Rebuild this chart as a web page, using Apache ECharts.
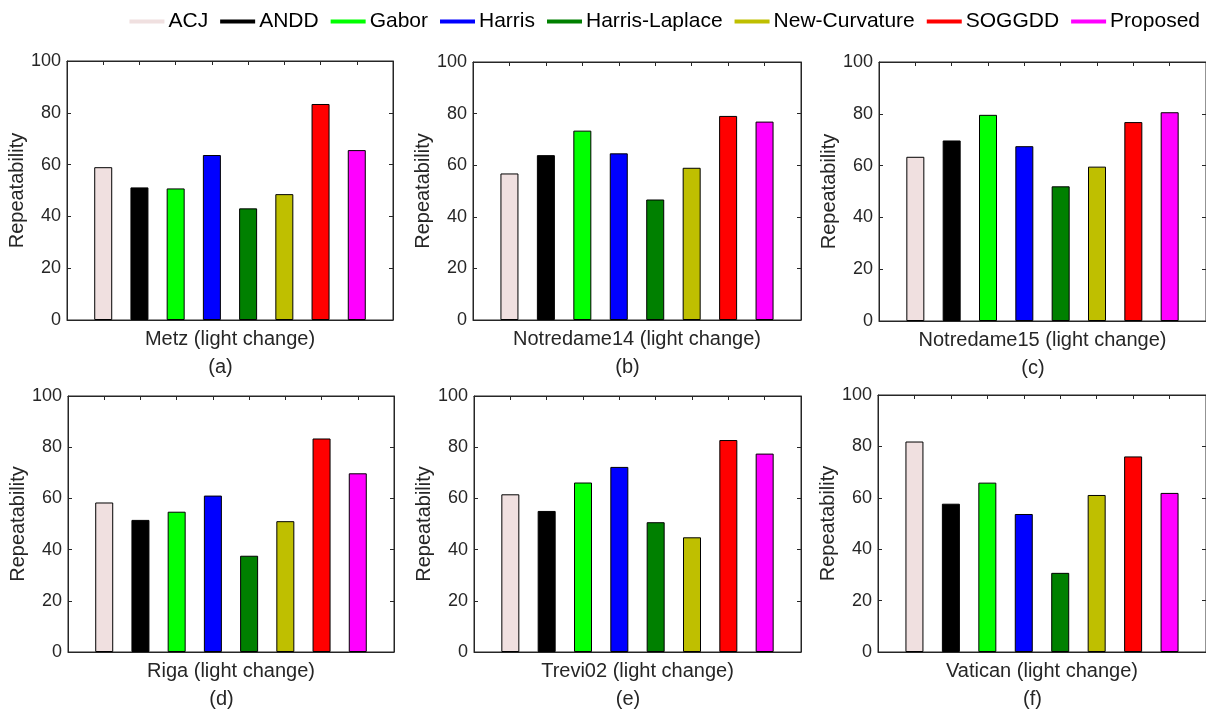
<!DOCTYPE html>
<html>
<head>
<meta charset="utf-8">
<script src="https://cdn.jsdelivr.net/npm/echarts@6/dist/echarts.min.js"></script>
<style>
html,body{margin:0;padding:0;background:#fff;}
#chart{width:1206px;height:714px;}
</style>
</head>
<body>
<div id="chart"></div>
<script>
// ---- data ----
const methods = ['ACJ', 'ANDD', 'Gabor', 'Harris', 'Harris-Laplace', 'New-Curvature', 'SOGGDD', 'Proposed'];
const datasetNames = ['Metz (light change)', 'Notredame14 (light change)', 'Notredame15 (light change)',
                      'Riga (light change)', 'Trevi02 (light change)', 'Vatican (light change)'];
const panelLabels = ['(a)', '(b)', '(c)', '(d)', '(e)', '(f)'];
const metz        = [59.0, 51.2, 50.8, 63.7, 43.1, 48.6, 83.4, 65.6];
const notredame14 = [56.8, 63.9, 73.4, 64.6, 46.7, 59.0, 79.1, 76.9];
const notredame15 = [63.4, 69.7, 79.6, 67.5, 52.0, 59.6, 76.8, 80.6];
const riga        = [58.4, 51.6, 54.8, 61.1, 37.6, 51.1, 83.4, 69.8];
const trevi02     = [61.6, 55.1, 66.2, 72.3, 50.7, 44.8, 82.8, 77.5];
const vatican     = [81.9, 57.7, 65.9, 53.7, 30.8, 61.1, 76.1, 61.9];
const yTicks = [0, 20, 40, 60, 80, 100];
const xPositions = [1, 2, 3, 4, 5, 6, 7, 8];

// ---- styles / layout ----
const panelValues = [metz, notredame14, notredame15, riga, trevi02, vatican];
const methodColors = ['#f0e0e0', '#000000', '#00ff00', '#0000ff', '#008000', '#bfbf00', '#ff0000', '#ff00ff'];
const gridBoxes = [
  {left: 67,  top: 61,  width: 326, height: 259},
  {left: 473, top: 62,  width: 328, height: 258},
  {left: 879, top: 62,  width: 329, height: 259},
  {left: 68,  top: 396, width: 326, height: 259},
  {left: 474, top: 396, width: 327, height: 259},
  {left: 878, top: 395, width: 330, height: 259}
];
const FONT = "'Liberation Sans', Arial, sans-serif";
const AX = '#262626';

const grids = [], xAxes = [], yAxes = [], series = [];
gridBoxes.forEach((g, k) => {
  grids.push(Object.assign({show: true, borderColor: AX, borderWidth: 1, backgroundColor: 'transparent', containLabel: false}, g));
  const baseX = {
    gridIndex: k, type: 'value', min: 0, max: 9, interval: 1,
    axisLabel: {show: false}, splitLine: {show: false},
    axisLine: {show: true, onZero: false, lineStyle: {color: AX, width: 1}},
    axisTick: {show: true, inside: true, length: 4, lineStyle: {color: AX}}
  };
  xAxes.push(Object.assign({}, baseX, {
    position: 'bottom',
    name: '{t|' + datasetNames[k] + '}\n{p|' + panelLabels[k] + '}',
    nameLocation: 'middle', nameGap: 5,
    nameTextStyle: {
      color: AX, fontFamily: FONT, fontSize: 20, lineHeight: 28,
      rich: {
        t: {color: AX, fontFamily: FONT, fontSize: 20, lineHeight: 28},
        p: {color: AX, fontFamily: FONT, fontSize: 20, lineHeight: 28, padding: [0, 19, 0, 0]}
      }
    }
  }));
  xAxes.push(Object.assign({}, baseX, {position: 'top'}));
  const baseY = {
    gridIndex: k, type: 'value', min: yTicks[0], max: yTicks[yTicks.length - 1], interval: yTicks[1] - yTicks[0],
    splitLine: {show: false},
    axisLine: {show: true, onZero: false, lineStyle: {color: AX, width: 1}},
    axisTick: {show: true, inside: true, length: 4, lineStyle: {color: AX}}
  };
  yAxes.push(Object.assign({}, baseY, {
    position: 'left',
    axisLabel: {show: true, color: AX, fontFamily: FONT, fontSize: 18, margin: 6},
    name: 'Repeatability', nameLocation: 'middle', nameGap: 40,
    nameTextStyle: {color: AX, fontFamily: FONT, fontSize: 20}
  }));
  yAxes.push(Object.assign({}, baseY, {position: 'right', axisLabel: {show: false}}));
  methods.forEach((m, j) => {
    series.push({
      type: 'bar', name: m,
      xAxisIndex: 2 * k, yAxisIndex: 2 * k,
      barWidth: 18, barGap: '-100%',
      itemStyle: {color: methodColors[j], borderColor: '#000', borderWidth: 1},
      emphasis: {disabled: true},
      data: [[xPositions[j], panelValues[k][j]]],
      animation: false
    });
  });
});

const chart = echarts.init(document.getElementById('chart'), null, {renderer: 'canvas'});
chart.setOption({
  backgroundColor: '#fff',
  animation: false,
  legend: {
    data: methods.map((m, j) => ({name: m, itemStyle: {color: methodColors[j], borderWidth: 0}})),
    top: 11, right: 6, padding: 0,
    icon: 'rect', itemWidth: 35, itemHeight: 4, itemGap: 12,
    textStyle: {color: '#000', fontFamily: FONT, fontSize: 21, padding: [0, 0, 0, -1]},
    selectedMode: false
  },
  grid: grids, xAxis: xAxes, yAxis: yAxes, series: series
});
</script>
</body>
</html>
